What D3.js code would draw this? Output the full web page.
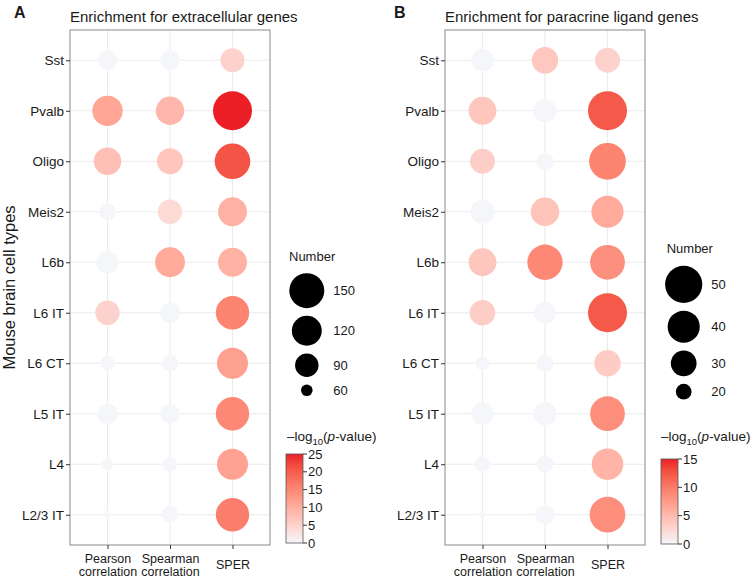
<!DOCTYPE html>
<html>
<head>
<meta charset="utf-8">
<script src="https://cdn.jsdelivr.net/npm/d3@7"></script>
<style>
  body { margin: 0; background: #fff; }
  svg text { font-family: "Liberation Sans", Arial, sans-serif; fill: #1a1a1a; }
</style>
</head>
<body>
<svg id="chart" width="750" height="578"></svg>
<script>
const cellTypes = ['Sst', 'Pvalb', 'Oligo', 'Meis2', 'L6b', 'L6 IT', 'L6 CT', 'L5 IT', 'L4', 'L2/3 IT'];
const methods = ['Pearson correlation', 'Spearman correlation', 'SPER'];
const methodLines = [['Pearson', 'correlation'], ['Spearman', 'correlation'], ['SPER']];

// panel A: extracellular genes (number of genes, -log10 p) per method, rows in cellTypes order
const extraPearsonNum = [76, 122, 107, 69, 87, 94, 65, 80, 60, 57];
const extraSpearmanNum = [76, 112, 101, 94, 120, 80, 69, 78, 65, 69];
const extraSperNum = [92, 178, 154, 115, 115, 140, 126, 140, 126, 140];
const extraPearsonP = [0, 11, 7.5, 0, 0, 5, 0, 0, 0, 0];
const extraSpearmanP = [0, 8.7, 6.7, 3.8, 10.5, 0, 0, 0, 0, 0];
const extraSperP = [5, 25, 21, 9.5, 9.5, 15.5, 11.8, 15, 11.5, 16.3];

// panel B: paracrine ligand genes
const paraPearsonNum = [26, 33, 29, 28, 33, 30, 19, 26, 20, 17];
const paraSpearmanNum = [31, 27, 21, 34, 46, 25, 21, 27, 21, 23];
const paraSperNum = [29, 54, 49, 40, 45, 54, 31, 45, 39, 47];
const paraPearsonP = [0, 4, 3.3, 0, 4, 3.3, 0, 0, 0, 0];
const paraSpearmanP = [3.8, 0, 0, 4.2, 9, 0, 0, 0, 0, 0];
const paraSperP = [3, 12.3, 9.3, 6.3, 8.4, 12.3, 3.5, 8.5, 5.5, 8.5];

const extraSizeBreaks = [150, 120, 90, 60];
const paraSizeBreaks = [50, 40, 30, 20];
const extraColorTicks = [0, 5, 10, 15, 20, 25];
const paraColorTicks = [0, 5, 10, 15];

const svg = d3.select('#chart');
const lowColor = '#f5f6fa';
const highColor = '#ec1f26';
const plotTop = 30;
const plotBottom = 545;

function drawPanel(p) {
  const g = svg.append('g');
  const x = d3.scalePoint().domain(methods).range([p.left, p.right]).padding(0.6);
  const y = d3.scalePoint().domain(cellTypes).range([plotTop, plotBottom]).padding(0.6);

  const ext = d3.extent(p.num.flat());
  const rs = d3.scaleSqrt().domain([0, ext[1] - ext[0]]).range([3.2, 19.5]);
  const radius = v => rs(Math.max(0, v - ext[0]));
  const color = d3.scaleLinear().domain([0, p.maxP]).range([lowColor, highColor])
    .interpolate(d3.interpolateLab).clamp(true);

  // grid
  g.append('g').selectAll('line.v').data(methods).join('line')
    .attr('x1', d => x(d)).attr('x2', d => x(d))
    .attr('y1', plotTop).attr('y2', plotBottom)
    .attr('stroke', '#ebebeb').attr('stroke-width', 1.1);
  g.append('g').selectAll('line.h').data(cellTypes).join('line')
    .attr('x1', p.left).attr('x2', p.right)
    .attr('y1', d => y(d)).attr('y2', d => y(d))
    .attr('stroke', '#ebebeb').attr('stroke-width', 1.1);

  const points = [];
  methods.forEach((m, mi) => {
    cellTypes.forEach((c, ci) => {
      points.push({ method: m, cell: c, n: p.num[mi][ci], lp: p.logp[mi][ci] });
    });
  });

  g.append('g').selectAll('circle').data(points).join('circle')
    .attr('cx', d => x(d.method))
    .attr('cy', d => y(d.cell))
    .attr('r', d => radius(d.n))
    .attr('fill', d => color(d.lp));

  g.append('rect')
    .attr('x', p.left).attr('y', plotTop)
    .attr('width', p.right - p.left).attr('height', plotBottom - plotTop)
    .attr('fill', 'none').attr('stroke', '#8a8a8a').attr('stroke-width', 1);

  // axes
  const yAxis = g.append('g')
    .attr('transform', 'translate(' + p.left + ',0)')
    .call(d3.axisLeft(y).tickSize(4).tickPadding(2));
  yAxis.select('.domain').remove();
  yAxis.selectAll('line').attr('stroke', '#333');
  yAxis.selectAll('text').attr('font-size', '13.5px').attr('fill', '#1a1a1a');

  const xAxis = g.append('g')
    .attr('transform', 'translate(0,' + plotBottom + ')')
    .call(d3.axisBottom(x).tickSize(4));
  xAxis.select('.domain').remove();
  xAxis.selectAll('line').attr('stroke', '#333');
  xAxis.selectAll('text').each(function (d, i) {
    const t = d3.select(this).text(null).attr('y', 0).attr('dy', null)
      .attr('font-size', '12.5px').attr('fill', '#1a1a1a');
    const lines = methodLines[i];
    lines.forEach((line, li) => {
      t.append('tspan').attr('x', 0)
        .attr('y', lines.length === 1 ? 24 : 17.5 + li * 13)
        .text(line);
    });
  });

  // titles
  g.append('text').attr('x', p.letterX).attr('y', 18)
    .attr('font-size', '16px').attr('font-weight', 'bold').text(p.letter);
  g.append('text').attr('x', p.left).attr('y', 22)
    .attr('font-size', '15px').text(p.title);

  // size legend
  const sl = g.append('g');
  sl.append('text').attr('x', p.sizeTitleX).attr('y', p.sizeTitleY)
    .attr('font-size', '13px').text('Number');
  const rMax = radius(p.sizeBreaks[0]);
  let cy = p.sizeTitleY + 8.6;
  p.sizeBreaks.forEach(v => {
    const r = radius(v);
    cy += (2 * r + 7.7) / 2;
    sl.append('circle').attr('cx', p.sizeCx).attr('cy', cy).attr('r', r).attr('fill', '#000');
    sl.append('text').attr('x', p.sizeCx + rMax + 9).attr('y', cy).attr('dy', '0.35em')
      .attr('font-size', '13px').text(v);
    cy += (2 * r + 7.7) / 2;
  });

  // colour legend
  const cl = g.append('g');
  const title = cl.append('text').attr('x', p.barTitleX).attr('y', 441).attr('font-size', '13.5px');
  title.append('tspan').text('\u2013log');
  title.append('tspan').attr('dy', 3.5).attr('font-size', '9.5px').text('10');
  title.append('tspan').attr('dy', -3.5).text('(');
  title.append('tspan').attr('font-style', 'italic').text('p');
  title.append('tspan').text('-value)');

  const gradId = 'grad' + p.letter;
  const grad = svg.append('defs').append('linearGradient').attr('id', gradId)
    .attr('x1', 0).attr('y1', 1).attr('x2', 0).attr('y2', 0);
  d3.range(0, 1.0001, 0.1).forEach(t => {
    grad.append('stop').attr('offset', t).attr('stop-color', color(t * p.maxP));
  });
  const barY = d3.scaleLinear().domain([0, p.maxP]).range([p.barBottom, p.barTop]);
  cl.append('rect').attr('x', p.barX).attr('y', p.barTop)
    .attr('width', 17).attr('height', p.barBottom - p.barTop)
    .attr('fill', 'url(#' + gradId + ')').attr('stroke', '#555').attr('stroke-width', 0.8);
  cl.selectAll('line.tick').data(p.colorTicks).join('line')
    .attr('x1', p.barX + 17).attr('x2', p.barX + 21)
    .attr('y1', d => barY(d)).attr('y2', d => barY(d))
    .attr('stroke', '#333');
  cl.selectAll('text.tick').data(p.colorTicks).join('text')
    .attr('x', p.barX + 22).attr('y', d => barY(d)).attr('dy', '0.35em')
    .attr('font-size', '13px').text(d => d);
}

drawPanel({
  letter: 'A', letterX: 14, title: 'Enrichment for extracellular genes',
  left: 70, right: 270,
  num: [extraPearsonNum, extraSpearmanNum, extraSperNum],
  logp: [extraPearsonP, extraSpearmanP, extraSperP],
  maxP: 25, sizeBreaks: extraSizeBreaks, colorTicks: extraColorTicks,
  sizeTitleX: 289, sizeTitleY: 260.7, sizeCx: 306.8,
  barTitleX: 287, barX: 286, barTop: 454, barBottom: 543
});

drawPanel({
  letter: 'B', letterX: 394, title: 'Enrichment for paracrine ligand genes',
  left: 445, right: 645,
  num: [paraPearsonNum, paraSpearmanNum, paraSperNum],
  logp: [paraPearsonP, paraSpearmanP, paraSperP],
  maxP: 15, sizeBreaks: paraSizeBreaks, colorTicks: paraColorTicks,
  sizeTitleX: 666.7, sizeTitleY: 253.3, sizeCx: 683.7,
  barTitleX: 661, barX: 661, barTop: 459, barBottom: 544
});

svg.append('text')
  .attr('transform', 'translate(15,287.5) rotate(-90)')
  .attr('text-anchor', 'middle')
  .attr('font-size', '16.5px')
  .text('Mouse brain cell types');
</script>
</body>
</html>
